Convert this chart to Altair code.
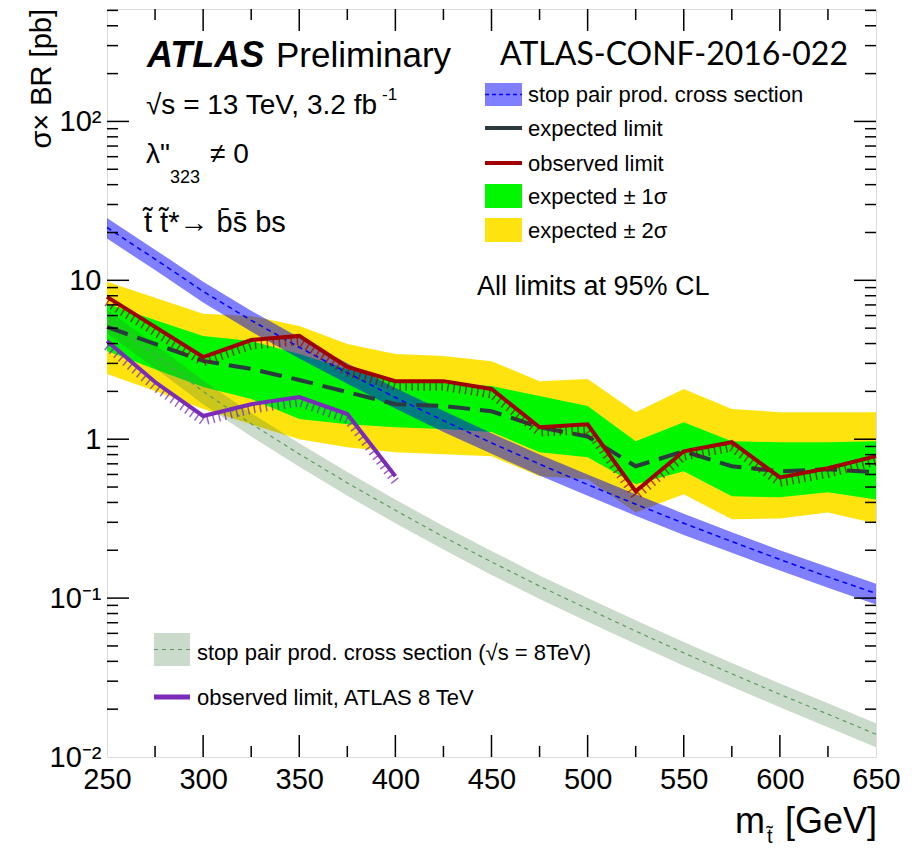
import altair as alt
import pandas as pd

# ---------------- data ----------------
mass = [250, 275, 300, 325, 350, 375, 400, 425, 450, 475, 500, 525, 550, 575, 600, 625, 650]

# stop pair production cross section, 13 TeV (pb) and its band
xsec13 = [21.5, 13.6, 8.52, 5.60, 3.79, 2.62, 1.83, 1.31, 0.948, 0.697, 0.518, 0.390, 0.296, 0.227, 0.175, 0.136, 0.107]
xsec13_hi = [24.7, 15.6, 9.80, 6.44, 4.36, 3.01, 2.10, 1.51, 1.09, 0.80, 0.60, 0.45, 0.34, 0.26, 0.20, 0.157, 0.123]
xsec13_lo = [18.3, 11.6, 7.24, 4.76, 3.22, 2.23, 1.56, 1.11, 0.81, 0.59, 0.44, 0.33, 0.25, 0.193, 0.149, 0.116, 0.091]

# stop pair production cross section, 8 TeV (pb) and its band
xsec8 = [5.58, 3.37, 2.00, 1.25, 0.807, 0.531, 0.357, 0.243, 0.169, 0.119, 0.0856, 0.0620, 0.0452, 0.0334, 0.0248, 0.0186, 0.0139]
xsec8_hi = [6.53, 3.94, 2.34, 1.46, 0.944, 0.621, 0.418, 0.284, 0.198, 0.139, 0.100, 0.0725, 0.0529, 0.0391, 0.0290, 0.0218, 0.0163]
xsec8_lo = [4.63, 2.80, 1.66, 1.04, 0.670, 0.441, 0.296, 0.202, 0.140, 0.0988, 0.0710, 0.0515, 0.0375, 0.0277, 0.0206, 0.0154, 0.0115]

# limits at 13 TeV (pb)
exp_limit = [5.09, 3.98, 3.11, 2.77, 2.36, 1.98, 1.66, 1.62, 1.50, 1.19, 1.04, 0.676, 0.84, 0.676, 0.628, 0.647, 0.620]
exp_p1 = [7.11, 5.63, 4.46, 4.15, 3.44, 2.76, 2.29, 2.26, 2.16, 1.87, 1.62, 0.971, 1.28, 0.971, 0.957, 0.957, 0.971]
exp_m1 = [3.59, 2.76, 2.13, 1.79, 1.34, 1.24, 1.19, 1.16, 1.11, 0.828, 0.770, 0.520, 0.628, 0.437, 0.431, 0.463, 0.418]
exp_p2 = [9.78, 7.76, 6.15, 5.97, 5.16, 3.98, 3.44, 3.34, 3.10, 2.32, 2.39, 1.48, 2.07, 1.55, 1.48, 1.48, 1.48]
exp_m2 = [2.57, 2.01, 1.55, 1.24, 1.00, 0.890, 0.828, 0.804, 0.782, 0.584, 0.559, 0.346, 0.450, 0.313, 0.317, 0.346, 0.295]
obs_limit = [7.87, 5.09, 3.29, 4.21, 4.47, 2.85, 2.32, 2.32, 2.07, 1.19, 1.24, 0.470, 0.84, 0.957, 0.575, 0.656, 0.782]

# ATLAS 8 TeV observed limit
mass8 = [250, 275, 300, 325, 350, 375, 400]
obs8 = [4.15, 2.29, 1.40, 1.66, 1.84, 1.44, 0.584]

# axis ticks / labels
x_labels = [250, 300, 350, 400, 450, 500, 550, 600, 650]
x_major = [300, 350, 400, 450, 500, 550, 600]
x_minor = [275, 325, 375, 425, 475, 525, 575, 625]
y_labels = [0.01, 0.1, 1, 10, 100]
y_major = [0.1, 1, 10, 100]
y_minor = [0.02, 0.03, 0.04, 0.05, 0.06, 0.07, 0.08, 0.09,
           0.2, 0.3, 0.4, 0.5, 0.6, 0.7, 0.8, 0.9,
           2, 3, 4, 5, 6, 7, 8, 9,
           20, 30, 40, 50, 60, 70, 80, 90,
           200, 300, 400, 500]

# ---------------- layout ----------------
W, H = 769, 748
X0, Y0 = 107, 9          # page position of the plot area
FONT = "Liberation Sans"

YEL = "#ffe30f"
GRN = "#00f700"
BLUE = "#0000ff"
GRAY8 = "#3d7a3d"
EXPC = "#2b3a3e"
RED = "#a00000"
PURP = "#7a2cb8"

df = pd.DataFrame({
    "m": mass, "xs13": xsec13, "xs13hi": xsec13_hi, "xs13lo": xsec13_lo,
    "xs8": xsec8, "xs8hi": xsec8_hi, "xs8lo": xsec8_lo,
    "exp": exp_limit, "p1": exp_p1, "m1": exp_m1, "p2": exp_p2, "m2": exp_m2,
    "obs": obs_limit,
})
d8 = pd.DataFrame({"m": mass8, "obs8": obs8})

xs = alt.Scale(domain=[250, 650], nice=False, zero=False)
ys = alt.Scale(type="log", domain=[0.01, 510], nice=False)

label_expr = ("datum.value >= 50 ? '10\u00b2' : datum.value >= 5 ? '10' : "
              "datum.value >= 0.5 ? '1' : datum.value >= 0.05 ? '10\u207b\u00b9' : '10\u207b\u00b2'")

x_axis = alt.Axis(values=x_labels, format="d", labelFont=FONT, labelFontSize=29,
                  labelColor="black", ticks=False, tickSize=0, domain=False, grid=False,
                  labelPadding=31, labelBaseline="alphabetic", labelFlush=False,
                  labelOverlap=False, title=None)
y_axis = alt.Axis(values=y_labels, labelExpr=label_expr, labelFont=FONT, labelFontSize=29,
                  labelColor="black", ticks=False, tickSize=0, domain=False, grid=False,
                  labelPadding=6, labelBaseline="middle", labelFlush=False,
                  labelOverlap=False, title=None)


def X(f="m"):
    return alt.X(f + ":Q", scale=xs, axis=x_axis)


def Y(f):
    return alt.Y(f + ":Q", scale=ys, axis=y_axis)


base = alt.Chart(df)

yellow = base.mark_area(color=YEL).encode(x=X(), y=Y("m2"), y2="p2:Q")
green = base.mark_area(color=GRN).encode(x=X(), y=Y("m1"), y2="p1:Q")
band8 = base.mark_area(color=GRAY8, opacity=0.27).encode(x=X(), y=Y("xs8lo"), y2="xs8hi:Q")
line8 = base.mark_line(color="#5f9a5f", strokeWidth=1.2, strokeDash=[4, 4]).encode(x=X(), y=Y("xs8"))
band13 = base.mark_area(color=BLUE, opacity=0.5).encode(x=X(), y=Y("xs13lo"), y2="xs13hi:Q")
line13 = base.mark_line(color=BLUE, strokeWidth=1.5, strokeDash=[5, 4]).encode(x=X(), y=Y("xs13"))

purple_hatch = alt.Chart(d8).mark_line(color=PURP, strokeWidth=9, strokeDash=[1.5, 4.5],
                                       yOffset=5, opacity=0.75).encode(x=X(), y=Y("obs8"))
purple = alt.Chart(d8).mark_line(color=PURP, strokeWidth=4).encode(x=X(), y=Y("obs8"))

expected = base.mark_line(color=EXPC, strokeWidth=4, strokeDash=[22, 10]).encode(x=X(), y=Y("exp"))
red_hatch = base.mark_line(color=RED, strokeWidth=9, strokeDash=[1.5, 4.5],
                           yOffset=5, opacity=0.7).encode(x=X(), y=Y("obs"))
observed = base.mark_line(color=RED, strokeWidth=4).encode(x=X(), y=Y("obs"))


# ---------------- frame ticks (ROOT style, inward) ----------------
def yticks(vals, x1, x2):
    return alt.Chart(pd.DataFrame({"v": vals})).mark_rule(color="black", strokeWidth=1.5).encode(
        y=Y("v"), x=alt.value(x1), x2=alt.value(x2))


def xticks(vals, y1, y2):
    return alt.Chart(pd.DataFrame({"v": vals})).mark_rule(color="black", strokeWidth=1.5).encode(
        x=X("v"), y=alt.value(y1), y2=alt.value(y2))


ticks = [
    yticks(y_major, 0, 22), yticks(y_minor, 0, 11),
    yticks(y_major, W, W - 22), yticks(y_minor, W, W - 11),
    xticks(x_major, H, H - 22), xticks(x_minor, H, H - 11),
    xticks(x_major, 0, 22), xticks(x_minor, 0, 11),
]


# ---------------- annotations & legends ----------------
def txt(s, px, py, size, align="left", baseline="alphabetic", font=FONT, **kw):
    return alt.Chart(pd.DataFrame({"t": [s]})).mark_text(
        align=align, baseline=baseline, fontSize=size, font=font, color="black", **kw
    ).encode(x=alt.value(px - X0), y=alt.value(py - Y0), text="t:N")


def box(x1, y1, x2, y2, color, opacity=1.0):
    return alt.Chart(pd.DataFrame({"a": [0]})).mark_rect(color=color, opacity=opacity).encode(
        x=alt.value(x1 - X0), x2=alt.value(x2 - X0), y=alt.value(y1 - Y0), y2=alt.value(y2 - Y0))


def hline(x1, x2, py, color, width, dash=None):
    kw = {"strokeDash": dash} if dash else {}
    return alt.Chart(pd.DataFrame({"a": [0]})).mark_rule(color=color, strokeWidth=width, **kw).encode(
        x=alt.value(x1 - X0), x2=alt.value(x2 - X0), y=alt.value(py - Y0))


annots = [
    txt("ATLAS", 147, 67, 36, fontStyle="italic", fontWeight="bold"),
    txt("Preliminary", 276, 67, 35),
    txt("ATLAS-CONF-2016-022", 500, 65, 32, font="Lato"),
    txt("\u221as = 13 TeV, 3.2 fb", 146, 114, 28),
    txt("-1", 382, 100, 17),
    txt("\u03bb\"", 146, 163, 28),
    txt("323", 170, 183, 18),
    txt("\u2260 0", 210, 163, 28),
    txt("t\u0303 t\u0303*\u2192 b\u0304s\u0304 bs", 144, 232, 29),
    # top-right legend
    box(485, 83, 522, 106, BLUE, 0.5),
    hline(485, 522, 94.5, BLUE, 1.5, [4, 3]),
    txt("stop pair prod. cross section", 528, 102, 22),
    hline(485, 522, 128, EXPC, 4),
    txt("expected limit", 528, 136, 22),
    hline(485, 522, 163, RED, 4),
    txt("observed limit", 528, 171, 22),
    box(485, 184, 522, 208, GRN),
    txt("expected \u00b1 1\u03c3", 528, 204, 22),
    box(485, 218, 522, 242, YEL),
    txt("expected \u00b1 2\u03c3", 528, 238, 22),
    txt("All limits at 95% CL", 477, 295, 27),
    # bottom-left legend
    box(154, 633, 190, 666, GRAY8, 0.27),
    hline(154, 190, 649.5, "#5f9a5f", 1.2, [4, 4]),
    txt("stop pair prod. cross section (\u221as = 8TeV)", 197, 660, 22),
    hline(154, 190, 697, PURP, 5),
    txt("observed limit, ATLAS 8 TeV", 197, 705, 22),
    # axis titles
    txt("\u03c3\u00d7 BR [pb]", 42, 9, 29, align="right", baseline="middle", angle=270),
    txt("m", 765, 833, 36, align="right"),
    txt("t\u0303", 767, 843, 20),
    txt("[GeV]", 877, 833, 36, align="right"),
]

chart = alt.layer(
    yellow, green, band8, line8, band13, line13,
    purple_hatch, purple, expected, red_hatch, observed,
    *ticks, *annots,
).properties(
    width=W, height=H,
    autosize=alt.AutoSizeParams(type="none"),
    padding={"left": 99, "top": 1, "right": 28, "bottom": 88},
).configure_view(stroke="black", strokeWidth=2).configure(font=FONT)

chart.save("out.html", embed_options={"renderer": "svg", "actions": False})
